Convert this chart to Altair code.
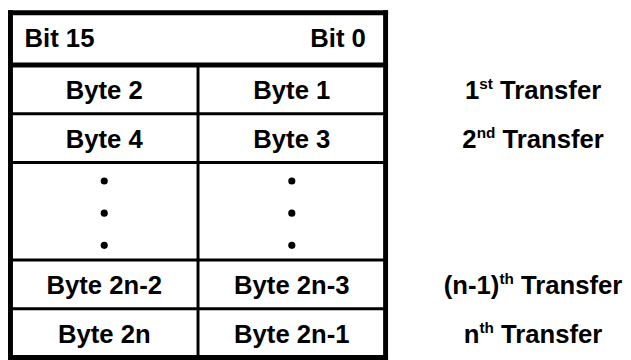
import altair as alt
import pandas as pd
import numpy as np

# ---------------- data ----------------
header_left = "Bit 15"
header_right = "Bit 0"
high_bytes = ["Byte 2", "Byte 4", "Byte 2n-2", "Byte 2n"]
low_bytes = ["Byte 1", "Byte 3", "Byte 2n-3", "Byte 2n-1"]
byte_rows = [1, 2, 4, 5]                 # table row index of each byte pair
transfer_base = ["1", "2", "(n-1)", "n"]
transfer_sup = ["st", "nd", "th", "th"]
transfer_rest = "Transfer"
row_spans = [1.07, 1, 1, 2, 1, 1]        # header, rows, ellipsis block, rows
dot_row = 3
dot_fracs = [0.19, 0.52, 0.85]

# ---------------- layout ----------------
W, H = 623, 352
UX, UY = 190.0, 49.4
X0, Y0 = 2.5, 2.5
FONT = "Liberation Sans"
FS, FS_SUP = 26, 15.5
LABEL_CENTER = 2.79

edges = np.concatenate([[0], np.cumsum(row_spans)])
centers = (edges[:-1] + edges[1:]) / 2

xs = alt.Scale(domain=[-X0 / UX, (W - X0) / UX], nice=False, zero=False)
ys = alt.Scale(domain=[-Y0 / UY, (H - Y0) / UY], nice=False, zero=False, reverse=True)

# Arial/Liberation Sans Bold advance widths (per 1000 em)
AW = {" ": 278, "(": 333, ")": 333, "-": 333, "1": 556, "2": 556, "T": 611,
      "a": 556, "d": 611, "e": 556, "f": 333, "h": 611, "n": 611, "r": 389,
      "s": 556, "t": 333}


def tw(s, fs):
    return sum(AW[c] for c in s) * fs / 1000.0


# ---------------- tables ----------------
thick_h = pd.DataFrame({"x0": 0.0, "x1": 2.0, "y": [edges[0], edges[1], edges[-1]]})
thick_v = pd.DataFrame({"x": [0.0, 2.0], "y0": edges[0], "y1": edges[-1]})
thin_h = pd.DataFrame({"x0": 0.0, "x1": 2.0, "y": list(edges[2:-1])})
thin_v = pd.DataFrame({"x": [1.0], "y0": [edges[1]], "y1": [edges[-1]]})

cells = pd.DataFrame({
    "text": high_bytes + low_bytes,
    "x": [0.5] * len(high_bytes) + [1.5] * len(low_bytes),
    "y": [centers[r] for r in byte_rows] * 2,
})

hdr_l = pd.DataFrame({"text": [header_left], "x": [0.075], "y": [centers[0]]})
hdr_r = pd.DataFrame({"text": [header_right], "x": [2 - 0.105], "y": [centers[0]]})

dots = pd.DataFrame({
    "x": [0.5] * len(dot_fracs) + [1.5] * len(dot_fracs),
    "y": [edges[dot_row] + f * row_spans[dot_row] for f in dot_fracs] * 2,
})

main_rows, sup_rows = [], []
for b, s, r in zip(transfer_base, transfer_sup, byte_rows):
    wb, ws = tw(b, FS), tw(s, FS_SUP)
    wsp, wr = tw(" ", FS), tw(transfer_rest, FS)
    start = LABEL_CENTER - (wb + ws + wsp + wr) / 2 / UX
    main_rows.append({"text": b, "x": start, "y": centers[r]})
    sup_rows.append({"text": s, "x": start + wb / UX, "y": centers[r]})
    main_rows.append({"text": transfer_rest, "x": start + (wb + ws + wsp) / UX, "y": centers[r]})
lab_main = pd.DataFrame(main_rows)
lab_sup = pd.DataFrame(sup_rows)

# ---------------- marks ----------------
def hrule(df, w, cap):
    return alt.Chart(df).mark_rule(color="black", strokeWidth=w, strokeCap=cap).encode(
        x=alt.X("x0:Q", scale=xs, axis=None), x2="x1:Q",
        y=alt.Y("y:Q", scale=ys, axis=None))


def vrule(df, w, cap):
    return alt.Chart(df).mark_rule(color="black", strokeWidth=w, strokeCap=cap).encode(
        x=alt.X("x:Q", scale=xs, axis=None),
        y=alt.Y("y0:Q", scale=ys, axis=None), y2="y1:Q")


def text_layer(df, align, fs=FS, dy=10):
    return alt.Chart(df).mark_text(
        font=FONT, fontWeight="bold", fontSize=fs, color="black",
        align=align, baseline="alphabetic", dy=dy).encode(
        x=alt.X("x:Q", scale=xs, axis=None),
        y=alt.Y("y:Q", scale=ys, axis=None),
        text="text:N")


dot_layer = alt.Chart(dots).mark_circle(size=52, color="black", opacity=1).encode(
    x=alt.X("x:Q", scale=xs, axis=None), y=alt.Y("y:Q", scale=ys, axis=None))

chart = alt.layer(
    hrule(thin_h, 3, "butt"),
    vrule(thin_v, 3, "butt"),
    hrule(thick_h, 5, "square"),
    vrule(thick_v, 5, "square"),
    text_layer(hdr_l, "left", dy=8),
    text_layer(hdr_r, "right", dy=8),
    text_layer(cells, "center"),
    dot_layer,
    text_layer(lab_main, "left"),
    text_layer(lab_sup, "left", fs=FS_SUP, dy=0),
).properties(
    width=W, height=H, padding=0,
    autosize=alt.AutoSizeParams(type="none"),
    background="white",
).configure_view(stroke=None)

chart.save("out.html", embed_options={"renderer": "svg", "actions": False})
